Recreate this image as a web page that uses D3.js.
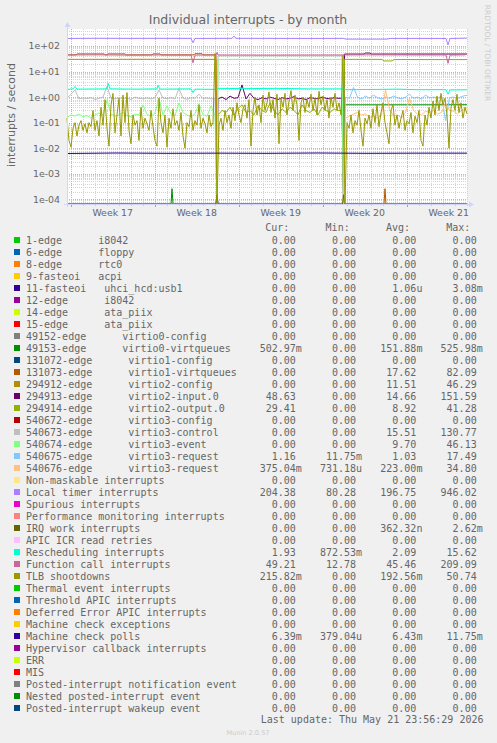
<!DOCTYPE html>
<html><head><meta charset="utf-8">
<script src="https://cdn.jsdelivr.net/npm/d3@7"></script>
<style>
html,body{margin:0;padding:0;background:#F0F0F0;}
svg{display:block;}
text{font-family:"DejaVu Sans",sans-serif;fill:#666666;}
.mono{font-family:"DejaVu Sans Mono",monospace;font-size:10px;white-space:pre;}
</style></head><body>
<svg id="c" width="497" height="743"></svg>
<script>
// ---------------- data ----------------
const graphTitle = "Individual interrupts - by month";
const yAxisTitle = "interrupts / second";
const graphStart = Date.UTC(2026, 3, 18, 16, 36); // left edge of the graph
const graphHours = 800;                            // span of the graph in hours
const yDomain = [6.55e-5, 463];
const yTickValues = [1e-4, 1e-3, 1e-2, 1e-1, 1, 10, 100];
const yTickLabels = ["1e-04", "1e-03", "1e-02", "1e-01", "1e+00", "1e+01", "1e+02"];

const legendLabels = [
"1-edge      i8042","6-edge      floppy","8-edge      rtc0","9-fasteoi   acpi",
"11-fasteoi   uhci_hcd:usb1","12-edge      i8042","14-edge      ata_piix","15-edge      ata_piix",
"49152-edge      virtio0-config","49153-edge      virtio0-virtqueues",
"131072-edge      virtio1-config","131073-edge      virtio1-virtqueues",
"294912-edge      virtio2-config","294913-edge      virtio2-input.0","294914-edge      virtio2-output.0",
"540672-edge      virtio3-config","540673-edge      virtio3-control","540674-edge      virtio3-event",
"540675-edge      virtio3-request","540676-edge      virtio3-request",
"Non-maskable interrupts","Local timer interrupts","Spurious interrupts",
"Performance monitoring interrupts","IRQ work interrupts","APIC ICR read retries",
"Rescheduling interrupts","Function call interrupts","TLB shootdowns","Thermal event interrupts",
"Threshold APIC interrupts","Deferred Error APIC interrupts","Machine check exceptions",
"Machine check polls","Hypervisor callback interrupts","ERR","MIS",
"Posted-interrupt notification event","Nested posted-interrupt event","Posted-interrupt wakeup event"];

const seriesColors = [
"#00CC00","#0066B3","#FF8000","#FFCC00","#330099","#990099","#CCFF00","#FF0000","#808080","#008F00",
"#00487D","#B35A00","#B38F00","#6B006B","#8FB300","#B30000","#BEBEBE","#80FF80","#80C9FF","#FFC080",
"#FFE680","#AA80FF","#EE00CC","#FF8080","#666600","#FFBFFF","#00FFCC","#CC6699","#999900","#00CC00",
"#0066B3","#FF8000","#FFCC00","#330099","#990099","#CCFF00","#FF0000","#808080","#008F00","#00487D"];

const statHeaders = ["Cur:", "Min:", "Avg:", "Max:"];
const curValues = ["0.00","0.00","0.00","0.00","0.00","0.00","0.00","0.00","0.00","502.97m",
"0.00","0.00","0.00","48.63","29.41","0.00","0.00","0.00","1.16","375.04m",
"0.00","204.38","0.00","0.00","0.00","0.00","1.93","49.21","215.82m","0.00",
"0.00","0.00","0.00","6.39m","0.00","0.00","0.00","0.00","0.00","0.00"];
const minValues = ["0.00","0.00","0.00","0.00","0.00","0.00","0.00","0.00","0.00","0.00",
"0.00","0.00","0.00","0.00","0.00","0.00","0.00","0.00","11.75m","731.18u",
"0.00","80.28","0.00","0.00","0.00","0.00","872.53m","12.78","0.00","0.00",
"0.00","0.00","0.00","379.04u","0.00","0.00","0.00","0.00","0.00","0.00"];
const avgValues = ["0.00","0.00","0.00","0.00","1.06u","0.00","0.00","0.00","0.00","151.88m",
"0.00","17.62","11.51","14.66","8.92","0.00","15.51","9.70","1.03","223.00m",
"0.00","196.75","0.00","0.00","362.32n","0.00","2.09","45.46","192.56m","0.00",
"0.00","0.00","0.00","6.43m","0.00","0.00","0.00","0.00","0.00","0.00"];
const maxValues = ["0.00","0.00","0.00","0.00","3.08m","0.00","0.00","0.00","0.00","525.98m",
"0.00","82.09","46.29","151.59","41.28","0.00","130.77","46.13","17.49","34.80",
"0.00","946.02","0.00","0.00","2.62m","0.00","15.62","209.09","50.74","0.00",
"0.00","0.00","0.00","11.75m","0.00","0.00","0.00","0.00","0.00","0.00"];
const lastUpdate = "Last update: Thu May 21 23:56:29 2026";
const footer = "Munin 2.0.57";
const sideText = "RRDTOOL / TOBI OETIKER";

// series samples: [hour since graph start, value] or runs of evenly spaced values
const run = (h0, step, vals) => vals.map((v, i) => [h0 + i * step, v]);

const usbFasteoi = [[0,0],[298,0],[300,1.4e-4],[302,0],[800,0]];
const virtio0Queues = [[0,0],[208,0],[210,2.6e-4],[212,0],[553,0],[555,0.5],[700,0.5],[800,0.503]];
const virtio1Queues = [[0,45],[18,45],[20,49],[74,49],[76,45],[80,45],[82,49],[116,49],[118,45],[170,45],
  [172,49],[186,49],[188,45],[254,45],[256,50],[270,50],[272,45],[298,45],[300,0],[634,0],[636,2.6e-4],[638,0],[800,0]];
const virtio2Config = [[0,30],[150,30.2],[298,30],[300,0],[800,0]];
const virtio2InputMid = [0.85,1.0,0.8,1.1,0.9,0.95,3.0,0.85,1.4,0.9,0.8,0.95,0.85,1.0,0.9,0.8,
  0.95,0.85,0.9,1.05,0.85,0.9,0.8,0.95,0.9,0.85,1.0,0.9,0.85,0.95,0.9];
const virtio2Input = [[0,0],[300,0]].concat(run(302,8,virtio2InputMid),
  [[550,0.9],[553,0],[555,48.5],[594,48.5],[597,53],[606,53],[609,48.5],[800,48.63]]);
const virtio2OutputMid = [0.2,0.3,0.25,0.4,0.2,0.35,0.5,0.25,0.3,0.2,0.45,0.3,0.25,0.6,0.3,0.2,
  0.35,0.25,0.4,0.3,0.2,0.5,0.3,0.25,0.35,0.2,0.4,0.3,0.25,0.35,0.3];
const virtio2Output = [[0,0],[300,0]].concat(run(302,8,virtio2OutputMid),
  [[550,0.3],[553,0],[555,30],[630,30],[634,26],[650,26],[654,29.5],[800,29.41]]);
const virtio3ControlPre = [0.9,1.3,1.9,0.85,0.92,0.88,0.95,0.8,0.9,1.0,2.6,0.9,0.85,0.95,0.88,0.92,0.8,1.0,0.9,
  0.87,0.93,0.85,0.95,1.9,0.9,0.88,0.95,0.85,2.2,0.9,0.82,0.95,0.9,1.3,0.88,0.92,0.85,0.9];
const virtio3Control = run(0,8,virtio3ControlPre).concat([[300,0],[302,41],[420,41],[550,41],[553,0],[800,0]]);
const virtio3EventPre = [0.16,0.2,0.18,0.22,0.17,0.19,0.15,0.2,0.24,0.2,0.75,0.22,0.18,0.2,0.25,0.19,0.17,0.22,
  0.2,0.5,0.21,0.18,0.24,0.9,0.2,0.45,0.22,0.19,0.6,0.25,0.2,0.17,0.22,0.55,0.2,0.18,0.45,0.2];
const virtio3Event = run(0,8,virtio3EventPre).concat([[300,0],[302,30],[550,30],[553,0],[800,0]]);
const virtio3Request1Post = [1.0,0.9,2.4,1.0,0.85,1.1,0.9,1.2,0.95,0.85,1.0,0.9,1.1,0.95,0.85,1.0,
  1.3,0.9,1.0,0.85,1.2,0.95,1.0,0.9,1.1,0.12,0.95,1.0,0.9,1.05,1.16];
const virtio3Request1 = [[0,0],[553,0]].concat(run(557,8,virtio3Request1Post),[[800,1.16]]);
const virtio3Request2Post = [0.15,0.18,0.22,0.25,0.2,0.22,0.16,0.18,0.15,0.2,1.9,0.35,0.18,0.2,0.15,0.25,
  0.9,0.3,0.22,0.2,0.28,0.25,0.3,0.22,0.25,0.6,0.3,0.28,0.22,0.3,0.375];
const virtio3Request2 = [[0,0],[553,0]].concat(run(557,8,virtio3Request2Post),[[800,0.375]]);
const localTimer = [[0,198],[60,201],[120,199],[180,200],[248,199],[252,134],[256,198],[300,199],[330,200],
  [334,245],[338,200],[400,199],[500,198],[553,199],[557,186],[640,186],[646,198],[700,199],[758,197],
  [762,110],[766,197],[800,204.4]];
const irqWork = [[0,0],[298,0],[300,1.5e-4],[302,0],[551,0],[553,1.5e-4],[555,0],[800,0]];
const rescheduling = [[0,2.0],[12,2.1],[16,2.6],[20,2.05],[80,2.1],[82,3.5],[86,2.1],[140,2.05],[180,2.1],
  [182,2.9],[186,2.05],[248,2.1],[252,1.5],[256,2.05],[300,2.0],[304,2.2],[350,2.15],[420,2.2],[480,2.1],
  [553,2.1],[557,1.95],[620,2.0],[660,2.05],[700,1.95],[758,1.95],[762,1.3],[766,1.9],[800,1.93]];
const functionCall = [[0,44.5],[60,45],[120,44],[180,44.5],[248,44],[252,22],[256,44],[298,44.5],[300,56],
  [302,44.5],[400,44],[500,44.5],[553,44.5],[600,45],[700,44.5],[758,44.5],[762,21],[766,44],[796,45],[800,49.2]];
const tlbShootdowns = [ // every 4 hours
0.15,0.02,0.011,0.06,0.1,0.03,0.08,0.12,0.05,0.09,0.04,0.1,0.07,0.3,0.05,0.12,0.03,0.4,0.08,0.8,
0.06,0.012,0.5,1.4,0.04,0.2,0.9,0.03,1.2,0.1,1.5,0.05,0.015,0.2,0.08,0.12,0.02,0.4,0.06,0.15,
0.09,0.05,0.3,0.07,0.02,0.012,0.9,0.1,0.04,0.2,0.011,0.15,0.06,0.35,0.08,0.12,0.05,0.25,0.03,0.01,
0.1,0.07,0.3,0.05,0.12,0.08,0.5,0.06,0.15,0.09,0.04,0.2,0.07,0.1,50.74,0,
0.08,0.15,0.05,0.3,0.1,0.2,0.06,0.4,0.12,0.6,0.2,0.1,0.35,0.5,0.15,0.8,0.012,0.3,1.0,0.2,
0.5,0.1,1.2,0.3,0.6,1.6,0.25,0.8,0.15,1.3,0.015,0.9,0.4,1.4,0.2,0.7,1.8,0.3,1.2,0.5,
0.02,0.6,1.0,0.25,0.8,0.4,1.3,0.3,0.9,0.2,1.7,0.5,1.1,0.3,0.8,0.15,1.0,0.4,1.4,0.3,
0.6,0.2,45,0,
0.1,0.06,0.2,0.04,0.12,0.08,0.3,0.05,0.012,0.15,0.09,0.2,0.06,0.35,0.1,0.5,0.07,0.25,0.6,0.1,
0.04,0.015,0.3,0.5,0.08,0.2,0.06,0.15,0.3,0.05,0.12,0.09,0.25,0.04,0.18,0.1,0.3,0.02,0.012,0.2,
0.08,0.4,0.15,0.7,0.2,1.1,0.3,1.4,0.5,0.9,0.2,0.01,0.4,0.8,0.3,1.3,0.25,0.6,0.15,0.4,0.22];
const tlb = run(0, 4, tlbShootdowns);
const machineCheckPolls = [[0,0.0062],[100,0.0065],[200,0.0063],[300,0.0064],[400,0.0063],[500,0.0065],
  [600,0.0063],[700,0.0064],[800,0.0064]];

// legend index -> samples (drawn in legend order; the rest are zero)
const plotted = [[4,usbFasteoi],[9,virtio0Queues],[11,virtio1Queues],[12,virtio2Config],[13,virtio2Input],
  [14,virtio2Output],[16,virtio3Control],[17,virtio3Event],[18,virtio3Request1],[19,virtio3Request2],
  [21,localTimer],[24,irqWork],[26,rescheduling],[27,functionCall],[28,tlb],[33,machineCheckPolls]];

// ---------------- drawing ----------------
const svg = d3.select("#c");
const L = 67, R = 467, T = 29, B = 204;
const axisColor = "#CFD6F8";
const HOUR = 3600e3;
const tStart = new Date(graphStart), tEnd = new Date(graphStart + graphHours * HOUR);
const x = d3.scaleUtc().domain([tStart, tEnd]).range([L, R]);
const y = d3.scaleLog().domain(yDomain).range([B, T]).clamp(true);

svg.append("rect").attr("x", L).attr("y", T).attr("width", R - L).attr("height", B - T).attr("fill", "#FFFFFF");

const g = svg.append("g");
// minor horizontal grid
const minorY = [];
for (let e = -5; e <= 2; e++) for (let m = 2; m <= 9; m++) {
  const v = m * Math.pow(10, e);
  if (v > yDomain[0] && v < yDomain[1]) minorY.push(v);
}
g.selectAll(".hmin").data(minorY).join("line")
  .attr("x1", L).attr("x2", R).attr("y1", d => Math.round(y(d)) + 0.5).attr("y2", d => Math.round(y(d)) + 0.5)
  .attr("stroke", "#D4D4D4").attr("stroke-dasharray", "1,1");
// minor vertical grid (days)
const days = d3.utcDay.range(tStart, tEnd);
const sundays = d3.utcSunday.range(tStart, tEnd);
g.selectAll(".vmin").data(days).join("line")
  .attr("x1", d => Math.round(x(d)) + 0.5).attr("x2", d => Math.round(x(d)) + 0.5)
  .attr("y1", T).attr("y2", B)
  .attr("stroke", "#D4D4D4").attr("stroke-dasharray", "1,1");
// major grid
g.selectAll(".hmaj").data(yTickValues).join("line")
  .attr("x1", L).attr("x2", R).attr("y1", d => Math.round(y(d)) + 0.5).attr("y2", d => Math.round(y(d)) + 0.5)
  .attr("stroke", "#F2A0A0").attr("stroke-dasharray", "1,1");
g.selectAll(".vmaj").data(sundays).join("line")
  .attr("x1", d => Math.round(x(d)) + 0.5).attr("x2", d => Math.round(x(d)) + 0.5)
  .attr("y1", T).attr("y2", B)
  .attr("stroke", "#F2A0A0").attr("stroke-dasharray", "1,1");
// ticks below axis
g.selectAll(".tmin").data(days).join("line")
  .attr("x1", d => Math.round(x(d)) + 0.5).attr("x2", d => Math.round(x(d)) + 0.5)
  .attr("y1", B).attr("y2", B + 2).attr("stroke", "#C8C8C8");
g.selectAll(".tmaj").data(sundays).join("line")
  .attr("x1", d => Math.round(x(d)) + 0.5).attr("x2", d => Math.round(x(d)) + 0.5)
  .attr("y1", B).attr("y2", B + 3).attr("stroke", "#F08080");

// series lines
const line = d3.line()
  .x(d => x(new Date(graphStart + d[0] * HOUR)))
  .y(d => y(d[1] > yDomain[0] ? d[1] : yDomain[0]));
const lines = svg.append("g").attr("clip-path", null);
plotted.forEach(([idx, pts]) => {
  lines.append("path").attr("d", line(pts)).attr("fill", "none")
    .attr("stroke", seriesColors[idx]).attr("stroke-width", 1).attr("stroke-linejoin", "miter");
});

// axes
svg.append("line").attr("x1", L - 3).attr("x2", R + 3).attr("y1", B + 0.5).attr("y2", B + 0.5).attr("stroke", axisColor);
svg.append("line").attr("x1", L + 0.5).attr("x2", L + 0.5).attr("y1", B + 3).attr("y2", T - 4).attr("stroke", axisColor);
svg.append("path").attr("d", `M${R + 2},${B - 2.5}L${R + 7},${B + 0.5}L${R + 2},${B + 3.5}Z`).attr("fill", axisColor);
svg.append("path").attr("d", `M${L - 2.5},${T - 2}L${L + 0.5},${T - 7}L${L + 3.5},${T - 2}Z`).attr("fill", axisColor);

// y tick labels
svg.selectAll(".ylab").data(yTickValues).join("text")
  .attr("x", 60).attr("y", d => y(d) + 3.4).attr("text-anchor", "end")
  .style("font-size", "9.4px").text((d, i) => yTickLabels[i]);
// x labels (centered in each week)
const fmt = d3.utcFormat("Week %V");
const weekMids = sundays.map(s => new Date(+s + 3.5 * 24 * HOUR)).filter(d => x(d) >= L && x(d) <= R);
svg.selectAll(".xlab").data(weekMids).join("text")
  .attr("x", d => x(d)).attr("y", 216).attr("text-anchor", "middle")
  .style("font-size", "9.4px").text(d => fmt(d));

// titles
svg.append("text").attr("x", 248).attr("y", 23.5).attr("text-anchor", "middle")
  .style("font-size", "12.5px").text(graphTitle);
svg.append("text").attr("transform", "translate(14.5,115) rotate(-90)").attr("text-anchor", "middle")
  .style("font-size", "11px").text(yAxisTitle);
svg.append("text").attr("transform", "translate(484.5,53) rotate(90)").attr("text-anchor", "middle")
  .style("font-size", "7.5px").style("fill", "#CCCCCC").text(sideText);

// legend
const colX = [295.8, 356.1, 416.4, 476.7];
const statCols = [curValues, minValues, avgValues, maxValues];
const lg = svg.append("g");
statHeaders.forEach((h, c) => {
  lg.append("text").attr("class", "mono").attr("x", colX[c] - 6.4).attr("y", 230.9)
    .attr("text-anchor", "end").text(h);
});
legendLabels.forEach((lab, i) => {
  const cy = 240 + 12 * i;
  lg.append("rect").attr("x", 14).attr("y", cy - 3).attr("width", 6).attr("height", 6).attr("fill", seriesColors[i]);
  lg.append("text").attr("class", "mono").attr("xml:space", "preserve").attr("x", 26).attr("y", cy + 3.6).text(lab);
  statCols.forEach((col, c) => {
    const s = col[i];
    const unit = /[a-zA-Z]$/.test(s) ? s.slice(-1) : "";
    const num = unit ? s.slice(0, -1) : s;
    lg.append("text").attr("class", "mono").attr("x", colX[c]).attr("y", cy + 3.6).attr("text-anchor", "end").text(num);
    if (unit) lg.append("text").attr("class", "mono").attr("x", colX[c]).attr("y", cy + 3.6).text(unit);
  });
});
lg.append("text").attr("class", "mono").attr("x", 483.5).attr("y", 723.3).attr("text-anchor", "end").text(lastUpdate);
svg.append("text").attr("x", 248).attr("y", 734.7).attr("text-anchor", "middle")
  .style("font-size", "6.6px").style("fill", "#CCCCCC").text(footer);
</script>
</body></html>
